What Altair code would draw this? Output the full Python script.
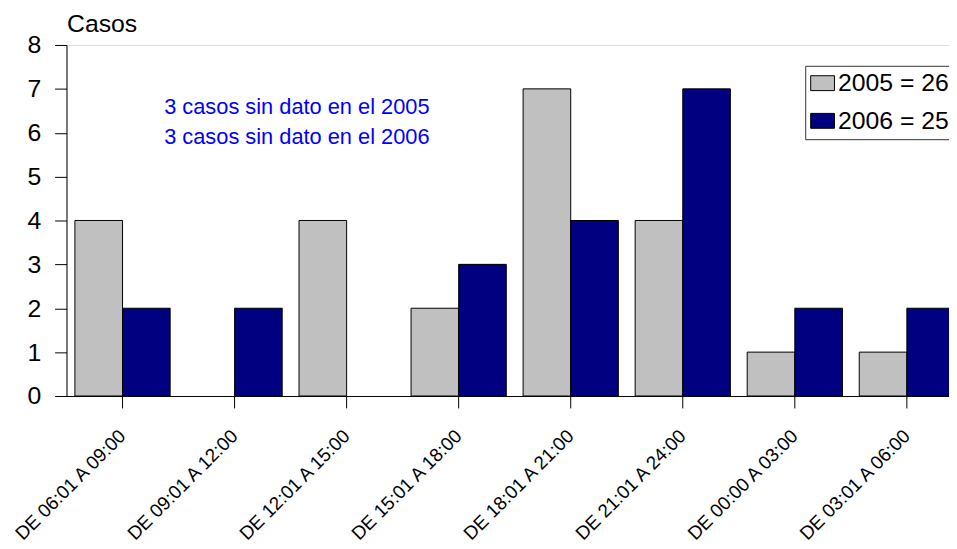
import altair as alt
import pandas as pd

categories = ["DE 06:01 A 09:00", "DE 09:01 A 12:00", "DE 12:01 A 15:00",
              "DE 15:01 A 18:00", "DE 18:01 A 21:00", "DE 21:01 A 24:00",
              "DE 00:00 A 03:00", "DE 03:01 A 06:00"]
series_names = ["2005 = 26", "2006 = 25"]
values_2005 = [4, 0, 4, 2, 7, 4, 1, 1]
values_2006 = [2, 2, 0, 3, 4, 7, 2, 2]
series_colors = ["#C0C0C0", "#000080"]

annot_text = ["3 casos sin dato en el 2005", "3 casos sin dato en el 2006"]
annot_cat = ["DE 09:01 A 12:00", "DE 09:01 A 12:00"]
annot_y = [6.42, 5.74]

rows = []
for c, a, b in zip(categories, values_2005, values_2006):
    rows.append({"cat": c, "serie": series_names[0], "casos": a})
    rows.append({"cat": c, "serie": series_names[1], "casos": b})
df = pd.DataFrame(rows)
ann = pd.DataFrame({"cat": annot_cat, "y": annot_y, "t": annot_text})

FONT = "Liberation Sans"

x_enc = alt.X("cat:N", sort=categories,
              scale=alt.Scale(range=[0, 904], paddingInner=0.15, paddingOuter=0.075),
              axis=alt.Axis(title=None, labelAngle=-45, labelAlign="right",
                            labelBaseline="middle", labelPadding=25, labelFontSize=19,
                            tickSize=12, labelColor="black", domainColor="black",
                            tickColor="black", labelFont=FONT))

bars = alt.Chart(df).transform_filter("datum.casos > 0").mark_bar(
    stroke="black", strokeWidth=1).encode(
    x=x_enc,
    xOffset=alt.XOffset("serie:N", sort=series_names,
                        scale=alt.Scale(domain=series_names, paddingInner=0, paddingOuter=0)),
    y=alt.Y("casos:Q", scale=alt.Scale(domain=[0, 8], nice=False),
            axis=alt.Axis(title="Casos", titleAngle=0, titleAlign="left",
                          titleBaseline="alphabetic", titleX=0, titleY=-14,
                          titleFontSize=25, titleFontWeight="normal", titleFont=FONT,
                          titleColor="black",
                          values=[0, 1, 2, 3, 4, 5, 6, 7, 8], grid=False,
                          tickSize=12, labelPadding=14, labelFontSize=25,
                          labelColor="black", domainColor="black", tickColor="black",
                          labelFont=FONT)),
    color=alt.Color("serie:N", sort=series_names,
                    scale=alt.Scale(domain=series_names, range=series_colors),
                    legend=alt.Legend(title=None, orient="none", legendX=745, legendY=21,
                                      symbolType="M-1,-0.625H1V0.625H-1Z",
                                      symbolSize=576, symbolStrokeColor="black",
                                      symbolStrokeWidth=1, symbolOpacity=1,
                                      labelFontSize=25, labelFont=FONT, labelColor="black",
                                      labelOffset=3, rowPadding=12, padding=5,
                                      strokeColor="#333333")),
)

notes = alt.Chart(ann).mark_text(align="left", baseline="alphabetic", dx=-71,
                                 fontSize=22, font=FONT, color="#0000FF").encode(
    x=alt.X("cat:N", sort=categories),
    y=alt.Y("y:Q"),
    text="t:N",
)

chart = alt.layer(bars, notes).properties(
    width=890, height=354,
    autosize=alt.AutoSizeParams(type="none"),
    padding={"left": 59, "top": 35, "right": 0, "bottom": 152},
).configure_view(stroke=None).configure(font=FONT)

chart.save("out.html", embed_options={"renderer": "svg", "actions": False})
